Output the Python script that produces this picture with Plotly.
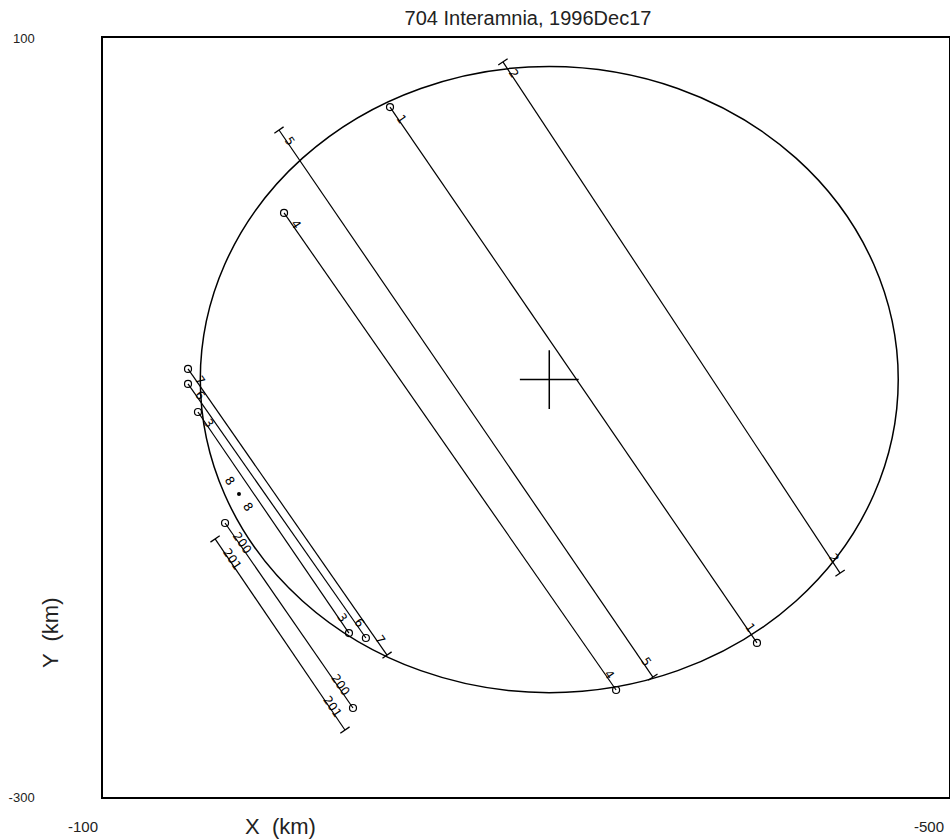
import math
import plotly.graph_objects as go

# chords (km), start at the upper-left end, end at the lower-right end
chord_ids = ["1", "2", "5", "4", "7", "6", "3", "200", "201"]
x_start = [-235.7, -289.1, -183.2, -185.6, -140.2, -140.2, -144.9, -157.7, -153.0]
y_start = [63.6, 87.4, 51.5, 7.8, -74.4, -82.3, -97.1, -155.6, -164.0]
x_end = [-409.2, -448.5, -360.0, -342.6, -234.3, -224.3, -216.3, -218.2, -214.4]
y_end = [-218.8, -182.0, -236.8, -243.6, -225.2, -216.2, -213.6, -253.1, -264.7]
start_mark = ["o", "t", "t", "o", "o", "o", "o", "o", "t"]
end_mark = ["o", "t", "t", "o", "t", "o", "o", "o", "t"]

# single-point observation
point_id = "8"
point_x = -164.3
point_y = -140.3

# fitted profile
center_x = -311.0
center_y = -80.0
radius = 165.0

x_range = [-100, -500]
y_range = [-300, 100]

W, H = 950, 839
ML, MR, MT, MB = 103, 1, 38, 42
PW, PH = W - ML - MR, H - MT - MB
px_x = PW / abs(x_range[1] - x_range[0])
px_y = PH / abs(y_range[1] - y_range[0])

FONT = "Liberation Sans Narrow, Liberation Sans, Arial Narrow, sans-serif"


def screen_angle(x0, y0, x1, y1):
    # angle of the segment on screen, clockwise from +x, degrees
    dx = -(x1 - x0) * px_x
    dy = -(y1 - y0) * px_y
    return math.degrees(math.atan2(dy, dx))


fig = go.Figure()

fig.add_shape(type="circle", xref="x", yref="y",
              x0=center_x - radius, x1=center_x + radius,
              y0=center_y - radius, y1=center_y + radius,
              line=dict(color="black", width=1.5))

annots = []
for i, cid in enumerate(chord_ids):
    ang = screen_angle(x_start[i], y_start[i], x_end[i], y_end[i])
    fig.add_trace(go.Scatter(x=[x_start[i], x_end[i]], y=[y_start[i], y_end[i]],
                             mode="lines", line=dict(color="black", width=1.2),
                             hoverinfo="skip"))
    for (xx, yy, mk, sgn) in [(x_start[i], y_start[i], start_mark[i], 1),
                               (x_end[i], y_end[i], end_mark[i], -1)]:
        if mk == "o":
            m = dict(symbol="circle-open", size=7, color="black", line=dict(width=1.2))
        else:
            m = dict(symbol="line-ew", size=8, angle=ang - 90,
                     color="black", line=dict(width=1.3, color="black"))
        fig.add_trace(go.Scatter(x=[xx], y=[yy], mode="markers", marker=m,
                                 hoverinfo="skip"))
        d = 11 + 5 * len(cid)
        ux, uy = math.cos(math.radians(ang)), math.sin(math.radians(ang))
        px_off = sgn * d * ux + 3 * uy
        py_off = sgn * d * uy - 3 * ux
        annots.append(dict(x=xx, y=yy, xref="x", yref="y", text=cid,
                           showarrow=False, textangle=ang,
                           xshift=px_off, yshift=-py_off,
                           font=dict(size=12, color="black", family="DejaVu Sans")))

# observer 8: a single point with its label on both sides
ang8 = screen_angle(x_start[0], y_start[0], x_end[0], y_end[0])
fig.add_trace(go.Scatter(x=[point_x], y=[point_y], mode="markers",
                         marker=dict(symbol="circle", size=4, color="black"),
                         hoverinfo="skip"))
for sgn in (-1, 1):
    ux, uy = math.cos(math.radians(ang8)), math.sin(math.radians(ang8))
    annots.append(dict(x=point_x, y=point_y, xref="x", yref="y", text=point_id,
                       showarrow=False, textangle=ang8,
                       xshift=sgn * 16 * ux, yshift=-sgn * 16 * uy,
                       font=dict(size=12, color="black", family="DejaVu Sans")))

# centre cross
fig.add_trace(go.Scatter(x=[center_x], y=[center_y], mode="markers",
                         marker=dict(symbol="cross-thin", size=42,
                                     line=dict(width=1.5, color="black")),
                         hoverinfo="skip"))

annots.append(dict(x=(280 - ML) / PW, y=-(826 - (MT + PH)) / PH,
                   xref="paper", yref="paper", xanchor="center", yanchor="middle",
                   text="X  (km)", showarrow=False,
                   font=dict(size=22, color="#222", family=FONT)))
annots.append(dict(x=(50 - ML) / PW, y=(MT + PH - 633) / PH,
                   xref="paper", yref="paper", xanchor="center", yanchor="middle",
                   text="Y  (km)", showarrow=False, textangle=-90,
                   font=dict(size=22, color="#222", family=FONT)))

fig.update_layout(
    width=W, height=H,
    margin=dict(l=ML, r=MR, t=MT, b=MB),
    paper_bgcolor="white", plot_bgcolor="white",
    showlegend=False,
    title=dict(text="704 Interamnia, 1996Dec17", x=528 / W, xanchor="center",
               y=1 - 18 / H, yanchor="middle", automargin=False,
               font=dict(size=20, color="#222", family=FONT)),
    annotations=annots,
)
fig.update_xaxes(range=x_range, showgrid=False, zeroline=False, automargin=False,
                 showline=True, mirror=True, linecolor="black", linewidth=1.5,
                 tickvals=x_range, ticktext=["-100", "-500"], ticks="",
                 ticklabelshift=20, ticklabelstandoff=15, ticklabeloverflow="allow",
                 tickfont=dict(size=15, color="#222", family=FONT))
fig.update_yaxes(range=y_range, showgrid=False, zeroline=False, automargin=False,
                 showline=True, mirror=True, linecolor="black", linewidth=1.5,
                 tickvals=y_range, ticktext=["-300", "100"], ticks="",
                 ticklabelstandoff=64, ticklabeloverflow="allow",
                 tickfont=dict(size=13, color="#222", family=FONT))

# drop the page's default body margin so the figure sits at the window corner
fig.write_html("out.html", config={"displayModeBar": False},
               post_script="document.body.style.margin='0';"
                           "document.body.style.overflow='hidden';")
